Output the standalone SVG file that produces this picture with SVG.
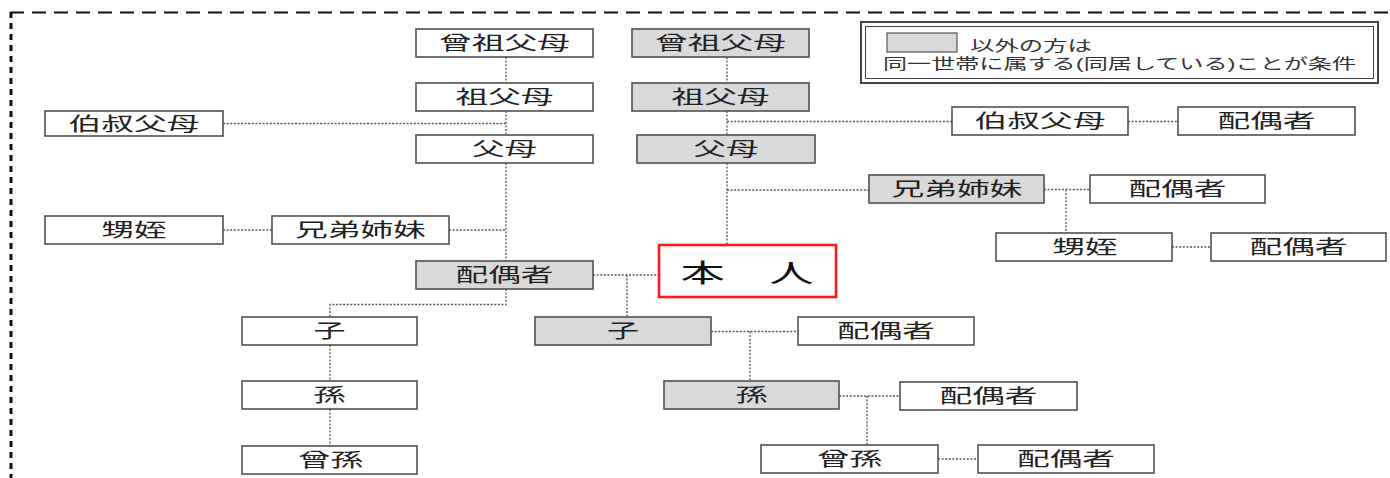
<svg xmlns="http://www.w3.org/2000/svg" width="1390" height="478" viewBox="0 0 1390 478">
<style>
.box{fill:#ffffff;stroke:#505050;stroke-width:1.6}
.gray{fill:#d9d9d9}
.self{fill:#ffffff;stroke:#ff1a1a;stroke-width:2.6}
.lbl{font-family:"Noto Sans CJK JP","Noto Sans CJK SC",sans-serif;font-size:19px;fill:#222;text-anchor:middle}
.big{font-size:25px;fill:#111}
.leg{font-family:"Liberation Sans","Noto Sans CJK JP","Noto Sans CJK SC",sans-serif;font-size:15px;fill:#333}
.conn{fill:none;stroke:#555;stroke-width:1.3;stroke-dasharray:2 1.6}
</style>
<rect width="1390" height="478" fill="#ffffff"/>
<g id="frame" fill="none" stroke="#111">
<line x1="10" y1="12.5" x2="1390" y2="12.5" stroke-width="2" stroke-dasharray="14 8"/>
<line x1="11" y1="12" x2="11" y2="478" stroke-width="3" stroke-dasharray="6 5"/>
</g>
<g id="legend">
<rect x="861" y="22" width="517" height="61" fill="#fff" stroke="#444" stroke-width="2"/>
<rect x="865.5" y="26.5" width="508" height="52" fill="none" stroke="#444" stroke-width="1"/>
<rect x="887" y="33" width="70" height="19" fill="#d9d9d9" stroke="#555" stroke-width="1.2"/>
<text class="leg" x="970" y="50.5" textLength="122" lengthAdjust="spacingAndGlyphs">以外の方は</text>
<text class="leg" x="883" y="69" textLength="473" lengthAdjust="spacingAndGlyphs">同一世帯に属する(同居している)ことが条件</text>
</g>
<g id="connectors" class="conn">
<path d="M506,57V83M506,111V135M506,163V261"/>
<path d="M223,123.5H506"/>
<path d="M449,230H506M223,230H272"/>
<path d="M506,289V304.5H330V317"/>
<path d="M330,345V381M330,409V446"/>
<path d="M727,57V83M727,111V135M727,163V245"/>
<path d="M727,121.5H952M1128,121.5H1178"/>
<path d="M727,190H869M1044,189.5H1090M1066,189.5V233M1172,247H1211"/>
<path d="M593,275H659M627,275V317"/>
<path d="M711,331.5H798M750,331.5V381"/>
<path d="M839,396H900M867,396V445"/>
<path d="M938,459H978"/>
</g>
<g id="n-hisofubo-L"><rect class="box" x="416" y="29" width="177" height="28"/><text class="lbl" x="504.5" y="50" textLength="131" lengthAdjust="spacingAndGlyphs">曾祖父母</text></g>
<g id="n-sofubo-L"><rect class="box" x="416" y="83" width="177" height="28"/><text class="lbl" x="504.5" y="104" textLength="98" lengthAdjust="spacingAndGlyphs">祖父母</text></g>
<g id="n-fubo-L"><rect class="box" x="416" y="135" width="177" height="28"/><text class="lbl" x="504.5" y="156" textLength="65" lengthAdjust="spacingAndGlyphs">父母</text></g>
<g id="n-oji-L"><rect class="box" x="45" y="111" width="178" height="25"/><text class="lbl" x="134" y="130.5" textLength="131" lengthAdjust="spacingAndGlyphs">伯叔父母</text></g>
<g id="n-oi-L"><rect class="box" x="45" y="216" width="178" height="28"/><text class="lbl" x="134" y="237" textLength="65" lengthAdjust="spacingAndGlyphs">甥姪</text></g>
<g id="n-kyodai-L"><rect class="box" x="272" y="216" width="177" height="28"/><text class="lbl" x="360.5" y="237" textLength="131" lengthAdjust="spacingAndGlyphs">兄弟姉妹</text></g>
<g id="n-haigusha-L"><rect class="box gray" x="416" y="261" width="177" height="28"/><text class="lbl" x="504.5" y="282" textLength="98" lengthAdjust="spacingAndGlyphs">配偶者</text></g>
<g id="n-honnin"><rect class="self" x="659" y="245" width="177" height="52"/><text class="lbl big" x="747" y="282" textLength="133" lengthAdjust="spacingAndGlyphs">本　人</text></g>
<g id="n-ko-L"><rect class="box" x="242" y="317" width="175" height="28"/><text class="lbl" x="329.5" y="338" textLength="32" lengthAdjust="spacingAndGlyphs">子</text></g>
<g id="n-mago-L"><rect class="box" x="242" y="381" width="175" height="28"/><text class="lbl" x="329.5" y="402" textLength="32" lengthAdjust="spacingAndGlyphs">孫</text></g>
<g id="n-himago-L"><rect class="box" x="242" y="446" width="175" height="28"/><text class="lbl" x="330.5" y="467" textLength="65" lengthAdjust="spacingAndGlyphs">曾孫</text></g>
<g id="n-hisofubo-R"><rect class="box gray" x="632" y="29" width="177" height="28"/><text class="lbl" x="720.5" y="50" textLength="131" lengthAdjust="spacingAndGlyphs">曾祖父母</text></g>
<g id="n-sofubo-R"><rect class="box gray" x="632" y="83" width="177" height="28"/><text class="lbl" x="720.5" y="104" textLength="98" lengthAdjust="spacingAndGlyphs">祖父母</text></g>
<g id="n-fubo-R"><rect class="box gray" x="637" y="135" width="178" height="28"/><text class="lbl" x="726" y="156" textLength="65" lengthAdjust="spacingAndGlyphs">父母</text></g>
<g id="n-oji-R"><rect class="box" x="952" y="107" width="176" height="28"/><text class="lbl" x="1040" y="128" textLength="131" lengthAdjust="spacingAndGlyphs">伯叔父母</text></g>
<g id="n-oji-spouse"><rect class="box" x="1178" y="107" width="177" height="28"/><text class="lbl" x="1266.5" y="128" textLength="98" lengthAdjust="spacingAndGlyphs">配偶者</text></g>
<g id="n-kyodai-R"><rect class="box gray" x="869" y="175" width="175" height="28"/><text class="lbl" x="957" y="196" textLength="131" lengthAdjust="spacingAndGlyphs">兄弟姉妹</text></g>
<g id="n-kyodai-spouse"><rect class="box" x="1090" y="175" width="175" height="28"/><text class="lbl" x="1177.5" y="196" textLength="98" lengthAdjust="spacingAndGlyphs">配偶者</text></g>
<g id="n-oi-R"><rect class="box" x="996" y="233" width="176" height="28"/><text class="lbl" x="1085" y="254" textLength="65" lengthAdjust="spacingAndGlyphs">甥姪</text></g>
<g id="n-oi-spouse"><rect class="box" x="1211" y="233" width="175" height="28"/><text class="lbl" x="1298.5" y="254" textLength="98" lengthAdjust="spacingAndGlyphs">配偶者</text></g>
<g id="n-ko-R"><rect class="box gray" x="535" y="317" width="176" height="28"/><text class="lbl" x="623" y="338" textLength="32" lengthAdjust="spacingAndGlyphs">子</text></g>
<g id="n-ko-spouse"><rect class="box" x="798" y="317" width="176" height="28"/><text class="lbl" x="886" y="338" textLength="98" lengthAdjust="spacingAndGlyphs">配偶者</text></g>
<g id="n-mago-R"><rect class="box gray" x="664" y="381" width="175" height="28"/><text class="lbl" x="751.5" y="402" textLength="32" lengthAdjust="spacingAndGlyphs">孫</text></g>
<g id="n-mago-spouse"><rect class="box" x="900" y="382" width="177" height="28"/><text class="lbl" x="988.5" y="403" textLength="98" lengthAdjust="spacingAndGlyphs">配偶者</text></g>
<g id="n-himago-R"><rect class="box" x="761" y="445" width="177" height="28"/><text class="lbl" x="849.5" y="466" textLength="65" lengthAdjust="spacingAndGlyphs">曾孫</text></g>
<g id="n-himago-spouse"><rect class="box" x="978" y="445" width="176" height="28"/><text class="lbl" x="1066" y="466" textLength="98" lengthAdjust="spacingAndGlyphs">配偶者</text></g>
</svg>
